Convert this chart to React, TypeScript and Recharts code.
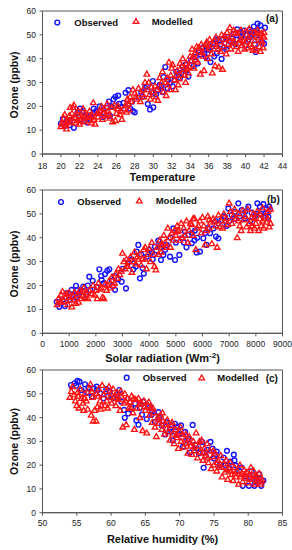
import React from 'react';
import { ScatterChart, Scatter, XAxis, YAxis, ZAxis, Legend, ReferenceArea } from 'recharts';

// ---------- DATA ----------
const ozoneTicks = [0, 10, 20, 30, 40, 50, 60];
const temperatureTicks = [18, 20, 22, 24, 26, 28, 30, 32, 34, 36, 38, 40, 42, 44];
const solarTicks = [0, 1000, 2000, 3000, 4000, 5000, 6000, 7000, 8000, 9000];
const humidityTicks = [50, 55, 60, 65, 70, 75, 80, 85];

const seriesNames = ['Observed', 'Modelled'];
const panelTags = ['(a)', '(b)', '(c)'];

// Panel (a): temperature vs ozone
const tempObserved: [number, number][] = [
  [20.0, 12.8], [20.4, 11.7], [20.97, 12.1], [21.4, 11], [20.2, 14.6], [21.8, 17.4], [22.06, 19], [22.4, 18],
  [22.86, 13.2], [23.1, 14.6], [23.55, 19], [23.8, 18], [24.2, 20], [24.6, 17], [24.95, 19.5], [25.2, 22],
  [25.7, 23], [25.9, 24], [26.2, 24.5], [25.3, 16], [26.5, 19.7], [27, 25.7], [27.3, 26.8], [27.5, 19],
  [27.8, 18], [28, 17.5], [28.4, 23.7], [28.7, 26], [29.1, 27.8], [29.3, 28.4], [29.4, 21], [29.65, 18.7],
  [30, 19.6], [29.95, 30.6], [30.5, 27], [30.9, 28.4], [31.3, 36.5], [31.1, 32.3], [31.55, 27.5], [31.8, 29.8],
  [32.1, 28.4], [32.5, 34.5], [32.9, 32], [33.2, 36.5], [33.5, 37.5], [33.8, 32.5], [34.1, 39.3], [34.6, 40.7],
  [34.9, 42.7], [35.1, 41.7], [35.4, 44.8], [35.7, 40.7], [36, 43.7], [36.2, 38.6], [36.5, 46.2], [36.9, 42.3],
  [37.1, 47.6], [37.4, 39.9], [37.7, 44.8], [38, 49], [38.4, 46.9], [38.7, 50.4], [39.1, 52.3], [39.5, 49],
  [39.8, 51.8], [40.1, 49.7], [40.4, 52], [40.6, 51.2], [40.9, 53.5], [41.1, 42.8], [41.3, 54.7], [41.6, 54],
  [41.8, 47], [42, 46.3], [42.1, 53], [34.8, 38], [35.5, 42], [36.3, 45], [37.5, 48], [38.2, 47.5], [39, 48],
  [39.7, 50.5], [40.3, 48], [40.8, 50], [41.4, 48], [33, 34], [32.3, 31], [31, 26], [30.3, 25], [26.8, 21.5],
  [24.6, 15.5], [23.5, 17], [22.5, 15.5], [21, 14], [21.6, 15], [36.6, 41], [37.9, 44], [38.9, 46], [40, 45.5], [41, 46],
  [35.8, 44], [36.8, 48], [37.3, 46], [38.6, 48.5], [39.4, 51], [40.5, 49], [41.2, 51], [41.7, 52], [34.4, 37],
  [33.6, 35], [32.7, 33.5], [31.6, 31], [30.7, 29], [29.8, 26], [28.8, 24], [27.7, 22], [26.3, 21], [25.5, 20],
  [24.3, 18], [23.2, 16], [22.2, 14.5], [20.6, 13.5],
];
const tempModelled: [number, number][] = [
  [20, 11.5], [20.1, 13], [20.3, 15], [20.4, 16.5], [20.5, 12], [20.6, 10.5], [20.7, 14], [20.9, 16], [21, 19.5],
  [21.1, 13], [21.2, 17], [21.3, 19.5], [21.4, 20.5], [21.5, 15], [21.6, 13], [21.7, 17], [21.8, 14], [22, 16], [22, 12.5],
  [22.2, 15], [22.4, 19], [22.5, 13.5], [22.6, 17], [22.8, 15.5], [23, 14], [23.1, 18], [23.3, 13], [23.4, 16],
  [23.5, 21.5], [23.6, 14.5], [23.7, 12.5], [23.9, 17], [24, 15.5],
  [24.2, 18], [24.4, 20], [24.5, 14.5], [24.7, 19], [24.9, 16], [25, 21], [25.1, 18], [25.3, 15], [25.5, 19.5],
  [25.6, 13.5], [25.8, 20.5], [26, 17], [25.9, 14],
  [26.2, 20], [26.4, 16.5], [26.6, 14.5], [26.8, 19], [27, 20.5], [27.1, 17.5], [27.3, 21], [27.5, 24], [27.6, 22],
  [27.8, 27], [28, 25.5], [27.4, 18.5],
  [28.2, 23], [28.4, 27.5], [28.6, 22], [28.8, 25], [29, 24], [29.1, 30], [29.3, 33.5], [29.4, 27], [29.6, 25],
  [29.8, 28], [30, 26], [29.7, 23],
  [30.2, 28.5], [30.3, 24], [30.5, 22.5], [30.7, 32], [30.8, 28], [31, 34.5], [31.1, 26], [31.3, 30], [31.4, 24.5],
  [31.6, 29], [31.7, 38.5], [31.9, 33], [32, 36], [31.8, 27],
  [32.1, 37.5], [32.3, 31], [32.4, 27], [32.6, 35], [32.7, 29], [32.9, 38], [33, 33], [33.2, 40], [33.3, 35.5],
  [33.5, 30], [33.6, 38], [33.8, 34], [34, 41], [33.9, 36.5],
  [34.1, 39], [34.2, 44], [34.4, 36], [34.5, 42], [34.7, 45], [34.8, 38.5], [35, 43], [35.1, 33.5], [35.2, 46],
  [35.4, 41], [35.5, 35], [35.6, 44.5], [35.8, 47], [35.9, 40], [36, 45.5],
  [36.1, 48], [36.3, 42], [36.4, 34], [36.5, 46], [36.7, 37], [36.8, 49], [37, 44], [37.1, 36.5], [37.2, 47],
  [37.4, 50], [37.5, 35.5], [37.6, 45], [37.8, 48], [37.9, 42], [38, 51],
  [38.1, 46], [38.3, 53], [38.4, 44], [38.5, 49], [38.7, 52], [38.8, 47], [39, 45], [39.1, 50.5], [39.2, 43],
  [39.4, 48], [39.5, 52], [39.6, 45.5], [39.8, 49], [39.9, 44], [40, 51.5],
  [40.1, 47], [40.2, 44.5], [40.4, 52.5], [40.5, 46], [40.6, 49.5], [40.8, 43.5], [40.9, 51], [41, 47.5], [41.1, 44],
  [41.3, 52], [41.4, 49], [41.5, 45], [41.6, 43], [41.7, 50.5], [41.8, 47], [41.9, 44.5], [42, 51], [42, 49],
  [34.3, 41], [34.6, 39.5], [34.9, 44.5], [35.3, 42.5], [35.7, 46], [36.2, 44], [36.6, 47.5], [36.9, 45], [37.3, 43],
  [37.7, 49.5], [38.2, 48.5], [38.6, 46.5], [38.9, 51], [39.3, 46.5], [39.7, 47.5], [40.3, 49], [40.7, 45],
  [41.2, 50.5], [41.6, 47.5], [41.9, 49.5], [33.1, 37], [33.4, 33], [33.7, 36], [32.5, 33], [32.8, 31.5], [31.5, 32],
  [30.9, 30], [30.4, 27], [29.5, 30], [28.9, 27], [28.1, 24], [27.2, 23], [26.5, 18], [26.1, 19], [25.2, 16.5],
  [24.6, 17], [24.1, 17], [23.2, 15.5], [22.7, 16], [22.1, 14], [21.9, 18], [21.2, 15], [20.8, 13.5], [20.2, 12.5],
];

// Panel (b): solar radiation vs ozone
const solarObserved: [number, number][] = [
  [532, 13.2], [632, 11.1], [844, 11.4], [906, 16.8], [1094, 18.2], [1256, 19.9], [1406, 17.1], [1531, 19.6],
  [1631, 16.2], [1756, 23.7], [1881, 22], [2031, 19.3], [2131, 26.8], [2219, 22.3], [2344, 24.8], [2431, 26.2],
  [2506, 26.8], [2631, 19.8], [2719, 18.2], [2844, 22.6], [2969, 21.6], [3131, 18.8], [3219, 29.6], [3306, 30.7],
  [3406, 26.8], [3531, 34.2], [3594, 37], [3656, 23], [3756, 27.3], [3906, 32.1], [4006, 34.9], [4131, 31],
  [4219, 36.3], [4344, 38.8], [4444, 30.7], [4531, 32.8], [4656, 37], [4781, 32.1], [4906, 43.9], [4969, 30.7],
  [5131, 32.8], [5219, 39.8], [5344, 42.6], [5469, 41.2], [5594, 37.7], [5719, 43], [5781, 33.8], [5906, 34.2],
  [6031, 39.8], [6156, 37], [6281, 41.9], [6406, 43.9], [6506, 40.5], [6594, 39.8], [6719, 47.4], [6844, 48.8],
  [6969, 52.3], [7094, 49.5], [7219, 50.9], [7344, 54.4], [7469, 51.6], [7594, 48.1], [7719, 53], [7844, 50.5],
  [7969, 49.1], [8056, 54.4], [8156, 53], [8281, 54.1], [8381, 50.2], [8469, 48.8], [8531, 51.9],
  [1000, 14], [1150, 16], [1300, 18], [1800, 18], [2300, 21], [2700, 24], [3000, 27], [3500, 28], [3800, 25],
  [4200, 33], [4600, 35], [5000, 38], [5400, 36], [5800, 40], [6200, 44], [6600, 46], [7000, 47], [7400, 49],
  [7800, 47], [8200, 50], [8400, 52], [6900, 45], [5600, 42], [4400, 36],
  [750, 14], [1250, 15], [1700, 20], [2200, 24], [2600, 22], [3350, 31], [3700, 33], [4100, 34], [4800, 40],
  [5300, 38], [5700, 39], [6100, 42], [6500, 47], [6800, 49], [7200, 48], [7600, 51], [8000, 50], [8300, 49], [8500, 53],
];
const solarModelled: [number, number][] = [
  [550, 12], [600, 14.5], [650, 13], [700, 16], [750, 17.5], [800, 13.5], [850, 15], [900, 16.5], [950, 12],
  [1000, 17], [1050, 14], [1100, 11], [1150, 15.5], [1200, 17], [1250, 12.5], [1300, 16], [1350, 13], [1400, 18],
  [1450, 14.5], [1500, 17.5], [1550, 19], [1600, 15], [1700, 14.5], [1750, 18], [1850, 16.5], [1900, 20], [2000, 18],
  [2050, 14.5], [2100, 21], [2200, 19], [2250, 15], [2300, 14.5], [2350, 20.5], [2400, 18], [2500, 22], [2550, 19],
  [2600, 23.5], [2700, 21], [2750, 25], [2800, 23], [2900, 24.5], [2950, 26], [3000, 33.5], [3050, 30], [3100, 27],
  [3150, 31], [3200, 28], [3300, 32], [3350, 25.5], [3400, 30], [3450, 34], [3500, 29], [3600, 31], [3650, 33],
  [3700, 28.5], [3800, 35], [3850, 31], [3900, 27], [4000, 35.5], [4050, 30], [4100, 38], [4150, 33], [4200, 28],
  [4250, 26.5], [4300, 36], [4400, 39], [4450, 34], [4500, 37], [4550, 41], [4600, 38], [4700, 44], [4750, 40],
  [4800, 36], [4850, 42], [4900, 39], [5000, 41], [5050, 45], [5100, 43], [5200, 46], [5250, 40], [5300, 44],
  [5400, 47], [5450, 38], [5500, 43], [5600, 45.5], [5650, 41], [5700, 48], [5750, 35], [5800, 44], [5900, 47],
  [5950, 42], [6000, 48.5], [6050, 45], [6100, 37], [6200, 49], [6250, 44], [6300, 46.5], [6350, 37.5], [6400, 48],
  [6500, 45], [6550, 36], [6600, 49.5], [6700, 47], [6750, 44], [6800, 50], [6900, 48], [6950, 45.5], [7000, 54.5],
  [7050, 51], [7100, 46], [7200, 52], [7250, 48], [7300, 40], [7350, 50], [7400, 45], [7450, 43], [7500, 51.5],
  [7600, 49], [7650, 44.5], [7700, 52], [7750, 46], [7800, 43], [7850, 48.5], [7900, 50], [7950, 44], [8000, 46],
  [8050, 51], [8100, 43], [8150, 48], [8200, 45], [8250, 52.5], [8300, 44], [8350, 49], [8400, 46.5], [8450, 51],
  [8500, 44.5], [8550, 52],
  [700, 13], [1000, 15], [1200, 14], [1500, 15.5], [1650, 17], [1950, 16], [2150, 18.5], [2450, 20], [2650, 20],
  [2850, 27], [3250, 30], [3550, 32], [3750, 31], [3950, 33], [4350, 33], [4650, 36], [4950, 43], [5150, 39],
  [5350, 41], [5550, 46], [5850, 45], [6150, 43], [6450, 47], [6650, 44.5], [6850, 47], [7150, 49], [7550, 47.5],
  [7950, 48], [8250, 47], [8450, 48], [8550, 46], [7350, 47], [7850, 45], [8150, 50], [6250, 47.5], [5650, 48],
  [5050, 42.5], [4450, 37], [3850, 36], [3150, 28],
];

// Panel (c): relative humidity vs ozone
const humidityObserved: [number, number][] = [
  [54.16, 53.7], [54.7, 54.4], [55.1, 55.4], [55.4, 55.1], [54.9, 53.4], [55.7, 51.6], [56.2, 54], [56.7, 52.6],
  [57.2, 48.8], [57.5, 52.3], [57.9, 53], [58.4, 50.2], [58.9, 48.1], [59.3, 52], [59.8, 50.9], [60.3, 48.1],
  [60.8, 49.5], [61.2, 51.6], [61.5, 46.7], [61.9, 43.2], [62, 39.9], [62.5, 41.7], [63, 43.8], [63.5, 45.9],
  [63.7, 38.8], [64, 37], [64.5, 41.2], [64.7, 46.7], [65.2, 39.4], [65.7, 44.5], [65.9, 41.2], [66.4, 38.1],
  [66.9, 42.3], [67.4, 36.7], [67.9, 32.9], [68.1, 38.1], [68.6, 35.3], [69, 30.4], [69.3, 37.4], [69.8, 33.2],
  [70.2, 36.7], [70.5, 27.8], [71.1, 30.4], [71.5, 25.3], [71.9, 36.9], [72.3, 28.5], [72.8, 25], [73.3, 29.7],
  [73.5, 18.9], [74, 26.4], [74.5, 29.8], [75, 22.8], [75.4, 25.7], [75.9, 20.1], [76.4, 23.2], [76.9, 26],
  [77.4, 21.5], [77.9, 24.4], [78.2, 19.8], [78.7, 17.6], [79.2, 11.3], [79.7, 15.3], [80.1, 11.3], [80.5, 17.4],
  [80.9, 11.3], [81.2, 14.1], [81.6, 16.2], [81.9, 11.3], [82.2, 13.5],
  [56.5, 50.5], [58, 51.5], [59.5, 49], [61, 48], [62.8, 46.5], [64.2, 44], [66, 42.5], [67, 40], [68.8, 34],
  [70, 33], [71.3, 31], [72.5, 27], [73.8, 24], [75.2, 24.5], [76.7, 20], [78, 22], [79, 19], [80.3, 15], [81, 13],
  [77.2, 19], [74.8, 27], [70.8, 34], [69.5, 36],
];
const humidityModelled: [number, number][] = [
  [54, 48.5], [54.2, 51], [54.4, 53], [54.6, 49.5], [54.8, 47], [55, 45], [55.1, 50.5], [55.3, 44], [55.5, 52],
  [55.7, 48], [55.9, 46], [56, 43], [56.2, 50], [56.4, 47], [56.6, 43.5], [56.8, 52], [57, 54], [57.1, 41],
  [57.3, 48.5], [57.4, 38.5], [57.6, 43], [57.8, 38.5], [57.9, 50], [58, 44.5],
  [58.2, 52], [58.4, 47], [58.5, 43.5], [58.7, 53.5], [58.9, 49.5], [59.1, 45], [59.3, 51], [59.5, 44], [59.7, 53],
  [59.9, 48.5], [60.1, 46], [60.3, 52], [60.5, 49], [60.7, 45], [60.9, 50.5], [61.1, 47.5], [61.3, 43], [61.5, 49],
  [61.7, 36], [61.9, 46], [62, 50],
  [62.2, 37], [62.4, 48], [62.6, 44], [62.8, 46.5], [63, 49], [63.2, 42], [63.4, 35], [63.6, 47.5], [63.8, 44],
  [64, 48], [64.2, 40], [64.4, 46], [64.6, 34.5], [64.8, 47], [65, 43], [65.2, 33.5], [65.4, 45], [65.6, 41],
  [65.8, 44], [66, 38],
  [66.2, 42], [66.4, 36], [66.6, 32], [66.8, 40], [67, 37.5], [67.2, 41], [67.4, 35], [67.6, 38.5], [67.8, 33],
  [68, 37], [68.2, 39], [68.4, 34], [68.6, 30.5], [68.8, 36.5], [69, 33], [69.2, 29], [69.4, 35], [69.6, 31.5],
  [69.8, 27], [70, 34],
  [70.2, 30], [70.4, 33], [70.6, 27.5], [70.8, 31], [71, 29], [71.2, 25], [71.4, 32], [71.6, 28], [71.8, 24.5],
  [72, 30], [72.2, 26], [72.4, 33.5], [72.6, 23], [72.8, 28], [73, 25.5], [73.2, 30.5], [73.4, 22], [73.6, 27],
  [73.8, 24], [74, 29],
  [74.2, 21], [74.4, 26], [74.6, 18.5], [74.8, 23.5], [75, 20], [75.2, 25], [75.4, 17.5], [75.6, 22], [75.8, 19],
  [76, 24], [76.2, 15], [76.4, 20.5], [76.6, 17], [76.8, 22], [77, 14], [77.2, 18.5], [77.4, 21], [77.6, 16],
  [77.8, 13.5], [78, 19],
  [78.2, 15], [78.4, 17.5], [78.6, 12], [78.8, 20], [79, 16], [79.2, 13], [79.4, 18], [79.6, 14.5], [79.8, 17],
  [80, 12.5], [80.2, 16], [80.4, 19], [80.6, 14], [80.8, 17.5], [81, 12], [81.2, 15.5], [81.4, 13], [81.6, 16.5],
  [81.8, 12], [82, 14],
  [59.4, 47], [60, 50], [60.8, 48], [61.4, 51], [62.1, 47], [62.9, 44], [63.3, 48], [64.1, 45.5], [64.9, 44.5],
  [65.5, 46.5], [66.1, 44], [66.9, 39], [67.5, 42], [68.1, 35.5], [68.9, 38], [69.5, 32.5], [70.1, 36], [70.9, 33],
  [71.5, 29.5], [72.1, 27.5], [72.9, 30], [73.5, 25], [74.1, 23], [74.9, 26], [75.5, 21], [76.1, 19], [76.9, 18],
  [77.5, 17.5], [78.1, 16.5], [78.9, 15], [79.5, 16], [80.1, 14.5], [80.9, 15], [81.5, 14], [81.9, 13], [55.2, 49],
  [56.1, 48], [57.2, 51], [58.1, 49], [58.6, 45],
];

// ---------- STYLE ----------
const FONT = '"Liberation Sans", Arial, sans-serif';
const BLUE = '#1414ff';
const RED = '#ff1010';
const AXIS = '#555';

const toPoints = (arr: [number, number][]) => arr.map(([x, y]) => ({ x, y }));

const CircleShape = (p: any) => (
  <circle cx={p.cx} cy={p.cy} r={2.4} fill="none" stroke={BLUE} strokeWidth={1.4} />
);
const TriangleShape = (p: any) => (
  <path
    d={`M${p.cx},${p.cy - 3}L${p.cx + 2.8},${p.cy + 1.9}L${p.cx - 2.8},${p.cy + 1.9}Z`}
    fill="none"
    stroke={RED}
    strokeWidth={1.35}
  />
);

type LegendPos = { cx: number; cy: number; ox: number; tx: number; ty: number; mx: number; lx: number; ly: number };

const makeLegend = (pos: LegendPos, tag: string) => () => (
  <svg width={292} height={40} style={{ overflow: 'visible', display: 'block' }}>
    <circle cx={pos.cx} cy={pos.cy} r={2.4} fill="none" stroke={BLUE} strokeWidth={1.4} />
    <text x={pos.ox} y={pos.cy + 3.3} fontFamily={FONT} fontWeight="bold" fontSize={9.5} fill="#111">
      {seriesNames[0]}
    </text>
    <path
      d={`M${pos.tx},${pos.ty - 3}L${pos.tx + 2.8},${pos.ty + 1.9}L${pos.tx - 2.8},${pos.ty + 1.9}Z`}
      fill="none"
      stroke={RED}
      strokeWidth={1.35}
    />
    <text x={pos.mx} y={pos.ty + 3.3} fontFamily={FONT} fontWeight="bold" fontSize={9.5} fill="#111">
      {seriesNames[1]}
    </text>
    <text x={pos.lx} y={pos.ly + 3.6} fontFamily={FONT} fontWeight="bold" fontSize={10} fill="#111">
      {tag}
    </text>
  </svg>
);

type PanelProps = {
  top: number;
  height: number;
  marginTop: number;
  xHeight: number;
  domain: [number, number];
  ticks: number[];
  tickMargin: number;
  xTitle: React.ReactNode;
  xTitleBaseline: number;
  yTitleCenter: number;
  observed: [number, number][];
  modelled: [number, number][];
  legend: LegendPos;
  tag: string;
};

const Panel = (p: PanelProps) => {
  const obs = toPoints(p.observed);
  const mod = toPoints(p.modelled);
  const tickStyle = { fontFamily: FONT, fontSize: 8.5, fill: '#222' };
  return (
    <div style={{ position: 'absolute', left: 0, top: p.top, width: 292, height: p.height }}>
      <ScatterChart width={292} height={p.height} margin={{ top: p.marginTop, right: 9.5, bottom: 0, left: 0 }}>
        <XAxis
          type="number"
          dataKey="x"
          domain={p.domain}
          ticks={p.ticks}
          interval={0}
          allowDataOverflow
          height={p.xHeight}
          tickSize={3}
          tickMargin={p.tickMargin}
          tick={tickStyle}
          stroke={AXIS}
          tickLine={{ stroke: AXIS }}
          label={() => (
            <text
              x={162.5}
              y={p.xTitleBaseline}
              textAnchor="middle"
              fontFamily={FONT}
              fontWeight="bold"
              fontSize={11}
              fill="#111"
            >
              {p.xTitle}
            </text>
          )}
        />
        <YAxis
          type="number"
          dataKey="y"
          domain={[0, 60]}
          ticks={ozoneTicks}
          interval={0}
          width={42.5}
          tickSize={3}
          tickMargin={3.5}
          tick={tickStyle}
          stroke={AXIS}
          tickLine={{ stroke: AXIS }}
          label={() => (
            <text
              x={0}
              y={0}
              transform={`translate(17.8, ${p.yTitleCenter}) rotate(-90)`}
              textAnchor="middle"
              fontFamily={FONT}
              fontWeight="bold"
              fontSize={10.5}
              fill="#111"
            >
              Ozone (ppbv)
            </text>
          )}
        />
        <ZAxis range={[20, 20]} />
        <ReferenceArea
          x1={p.domain[0]}
          x2={p.domain[1]}
          y1={0}
          y2={60}
          fill="none"
          stroke={AXIS}
          strokeWidth={1}
          ifOverflow="visible"
        />
        <Legend
          layout="vertical"
          align="center"
          verticalAlign="middle"
          wrapperStyle={{ position: 'absolute', left: 0, top: 0, width: 292, height: 40 }}
          content={makeLegend(p.legend, p.tag)}
        />
        <Scatter name={seriesNames[0]} data={obs} shape={CircleShape} isAnimationActive={false} />
        <Scatter name={seriesNames[1]} data={mod} shape={TriangleShape} isAnimationActive={false} />
      </ScatterChart>
    </div>
  );
};

export default function App() {
  return (
    <div style={{ position: 'absolute', left: 0, top: 0, width: 292, height: 550, background: '#fff' }}>
      <Panel
        top={0}
        height={186}
        marginTop={11}
        xHeight={32}
        domain={[18, 44]}
        ticks={temperatureTicks}
        tickMargin={5.5}
        xTitle="Temperature"
        xTitleBaseline={180.6}
        yTitleCenter={85}
        observed={tempObserved}
        modelled={tempModelled}
        legend={{ cx: 57.3, cy: 22.5, ox: 74.3, tx: 136, ty: 21.5, mx: 151.7, lx: 266, ly: 18 }}
        tag={panelTags[0]}
      />
      <Panel
        top={180}
        height={186}
        marginTop={10}
        xHeight={32.7}
        domain={[0, 9000]}
        ticks={solarTicks}
        tickMargin={4.7}
        xTitle={
          <>
            Solar radiation (Wm
            <tspan dy={-4} fontSize={8}>-2</tspan>
            <tspan dy={4}>)</tspan>
          </>
        }
        xTitleBaseline={181.6}
        yTitleCenter={84}
        observed={solarObserved}
        modelled={solarModelled}
        legend={{ cx: 61, cy: 22, ox: 77.3, tx: 139.3, ty: 21, mx: 155.7, lx: 267, ly: 19 }}
        tag={panelTags[1]}
      />
      <Panel
        top={365}
        height={185}
        marginTop={5}
        xHeight={37.3}
        domain={[50, 85]}
        ticks={humidityTicks}
        tickMargin={3.9}
        xTitle="Relative humidity (%)"
        xTitleBaseline={178.2}
        yTitleCenter={76.5}
        observed={humidityObserved}
        modelled={humidityModelled}
        legend={{ cx: 126.7, cy: 12.7, ox: 142.7, tx: 201.7, ty: 13, mx: 217.3, lx: 265.7, ly: 13 }}
        tag={panelTags[2]}
      />
    </div>
  );
}
